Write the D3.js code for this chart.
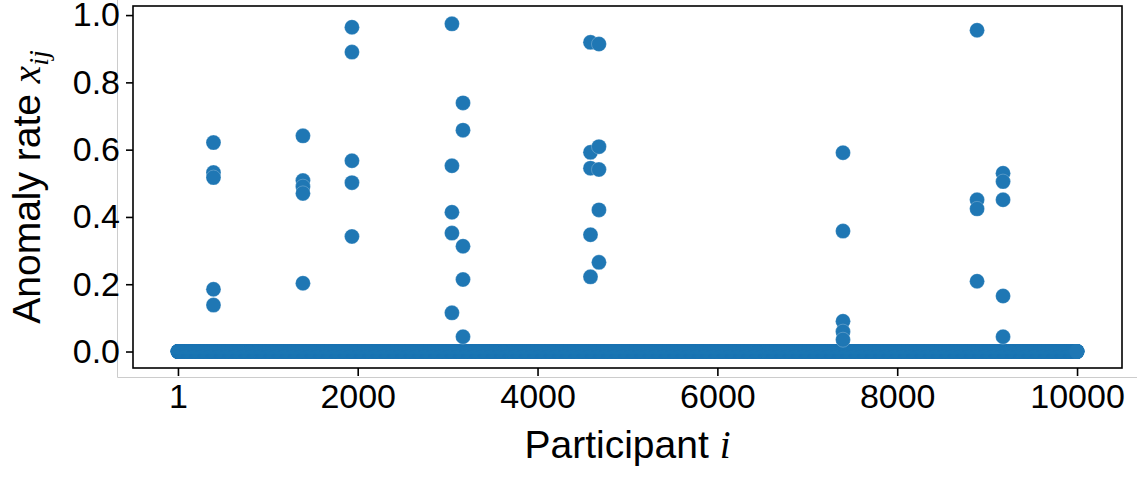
<!DOCTYPE html>
<html>
<head>
<meta charset="utf-8">
<script src="https://cdn.jsdelivr.net/npm/d3@7"></script>
<style>
  body { margin: 0; background: #fff; }
  text { font-family: "Liberation Sans", Arial, sans-serif; fill: #000; }
  .math { font-family: "Liberation Serif", "DejaVu Serif", serif; font-style: italic; }
</style>
</head>
<body>
<div id="chart"></div>
<script>
// participants 1..10000, most with zero anomaly rate
const participants = d3.range(1, 10001);

// non-zero anomaly rates
const anomalyParticipant = [
  396, 396, 396, 396, 396,
  1391, 1391, 1391, 1391, 1391,
  1936, 1936, 1936, 1936, 1936,
  3048, 3048, 3048, 3048, 3048,
  3171, 3171, 3171, 3171, 3171,
  4589, 4589, 4589, 4589, 4589,
  4683, 4683, 4683, 4683, 4683,
  7397, 7397, 7397, 7397, 7397,
  8888, 8888, 8888, 8888,
  9177, 9177, 9177, 9177, 9177
];
const anomalyRate = [
  0.621, 0.532, 0.517, 0.185, 0.138,
  0.641, 0.508, 0.490, 0.470, 0.203,
  0.964, 0.890, 0.567, 0.502, 0.342,
  0.974, 0.552, 0.414, 0.352, 0.115,
  0.739, 0.658, 0.313, 0.214, 0.044,
  0.919, 0.592, 0.545, 0.347, 0.222,
  0.914, 0.609, 0.541, 0.421, 0.265,
  0.591, 0.358, 0.090, 0.059, 0.035,
  0.955, 0.451, 0.424, 0.209,
  0.530, 0.505, 0.451, 0.165, 0.044
];

const xTicks = [1, 2000, 4000, 6000, 8000, 10000];
const yTicks = [0, 0.2, 0.4, 0.6, 0.8, 1.0];

const W = 1137, H = 479;
const margin = { top: 6, right: 15, bottom: 111, left: 133 };
const width = W - margin.left - margin.right;
const height = H - margin.top - margin.bottom;

const svg = d3.select("#chart").append("svg")
  .attr("width", W).attr("height", H);

// light figure edge (bbox remnant)
svg.append("path")
  .attr("d", `M117.5,0 V377.5 H${W}`)
  .attr("fill", "none").attr("stroke", "#cccccc").attr("stroke-width", 1);

const g = svg.append("g").attr("transform", `translate(${margin.left},${margin.top})`);

const x = d3.scaleLinear().domain([-499, 10500]).range([0, width]);
const y = d3.scaleLinear().domain([-0.049, 1.027]).range([height, 0]);

const color = "#1f77b4";
const r = 7.5;

// zero-rate points
g.append("g").selectAll("circle")
  .data(participants)
  .join("circle")
  .attr("cx", d => x(d))
  .attr("cy", y(0))
  .attr("r", r)
  .attr("fill", color);

// anomalies
g.append("g").selectAll("circle")
  .data(anomalyParticipant.map((p, k) => ({ p, v: anomalyRate[k] })))
  .join("circle")
  .attr("cx", d => x(d.p))
  .attr("cy", d => y(d.v))
  .attr("r", r)
  .attr("fill", color)
  .attr("stroke", "#fff").attr("stroke-width", 0.4).attr("stroke-opacity", 0.6);

// axes
const xAxis = g.append("g")
  .attr("transform", `translate(0,${height})`)
  .call(d3.axisBottom(x).tickValues(xTicks).tickFormat(d3.format("d")).tickSize(8).tickPadding(8));
const yAxis = g.append("g")
  .call(d3.axisLeft(y).tickValues(yTicks).tickFormat(d3.format(".1f")).tickSize(7).tickPadding(6));

[xAxis, yAxis].forEach(a => {
  a.select(".domain").remove();
  a.selectAll(".tick line").attr("stroke", "#000").attr("stroke-width", 1.6);
  a.selectAll(".tick text").style("font-size", "34px").attr("fill", "#000");
});

// frame
g.append("rect")
  .attr("x", 0).attr("y", 0).attr("width", width).attr("height", height)
  .attr("fill", "none").attr("stroke", "#000").attr("stroke-width", 1.6);

// axis labels
const xl = svg.append("text")
  .attr("x", margin.left + width / 2).attr("y", 458)
  .attr("text-anchor", "middle")
  .style("font-size", "39px");
xl.append("tspan").text("Participant ");
xl.append("tspan").attr("class", "math").text("i");

const yl = svg.append("text")
  .attr("transform", `translate(40,${margin.top + height / 2}) rotate(-90)`)
  .attr("text-anchor", "middle")
  .style("font-size", "39px");
yl.append("tspan").text("Anomaly rate ");
yl.append("tspan").attr("class", "math").text("x");
yl.append("tspan").attr("class", "math").attr("dy", 8).style("font-size", "28px").text("ij");
</script>
</body>
</html>
